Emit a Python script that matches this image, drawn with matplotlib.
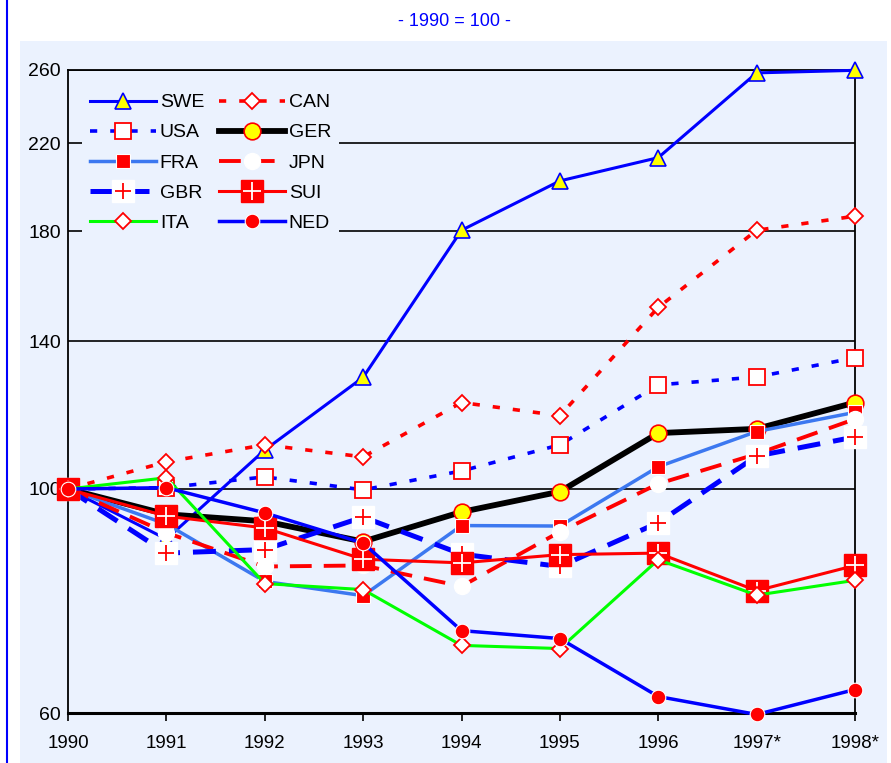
import numpy as np
import matplotlib
matplotlib.use('Agg')
import matplotlib.pyplot as plt
from matplotlib.patches import Rectangle
from matplotlib.lines import Line2D
from matplotlib.ticker import NullLocator

plt.rcParams['font.family'] = ['Liberation Sans', 'DejaVu Sans']

# index values, 1990 = 100
years = np.arange(1990, 1999)
year_labels = ['1990', '1991', '1992', '1993', '1994', '1995', '1996', '1997*', '1998*']

swe = [100, 89.2, 109.3, 129.0, 180.4, 201.9, 212.9, 258.3, 259.8]
can = [100, 106.4, 110.6, 107.6, 121.8, 118.2, 151.3, 180.4, 186.3]
usa = [100, 100.3, 102.8, 99.8, 104.2, 110.6, 126.8, 129.1, 134.9]
ger = [100, 94.4, 92.9, 88.7, 94.9, 99.4, 113.6, 114.7, 121.8]
fra = [100, 92.3, 81.0, 78.4, 92.0, 91.9, 105.2, 114.0, 119.1]
jpn = [100, 90.5, 83.8, 84.0, 80.1, 90.7, 101.2, 108.3, 117.3]
gbr = [100, 86.4, 87.1, 93.8, 86.2, 83.8, 92.6, 107.8, 112.6]
sui = [100, 94.0, 91.5, 85.2, 84.5, 86.1, 86.4, 79.3, 84.0]
ita = [100, 102.6, 80.6, 79.5, 70.0, 69.5, 85.1, 78.5, 81.2]
ned = [100, 100.3, 94.7, 88.4, 72.4, 71.1, 62.3, 59.8, 63.3]

yticks = [60, 100, 140, 180, 220, 260]

BG = '#EBF2FE'
BLUE = '#0000FF'
RED = '#FF0000'
W, H = 891, 763

fig = plt.figure(figsize=(W / 100, H / 100), dpi=100)
fig.patches.append(Rectangle((20 / W, 0), (887 - 20) / W, (763 - 41) / H,
                             transform=fig.transFigure, facecolor=BG,
                             edgecolor='none', zorder=-5))
fig.add_artist(Line2D([7 / W, 7 / W], [0, 1], color=BLUE, lw=1.5, zorder=-4))
fig.text(454 / W, 1 - 22 / H, '- 1990 = 100 -', color=BLUE, fontsize=13,
         ha='center', va='center')

ax = fig.add_axes([68 / W, 1 - 713 / H, (855 - 68) / W, (713 - 70) / H])
ax.set_facecolor(BG)

kw = dict(clip_on=False)
l_swe, = ax.plot(years, swe, color=BLUE, lw=2.2, marker='^', ms=11.5,
                 mfc='#FFFF00', mec=BLUE, mew=1.2, zorder=3, **kw)
l_can, = ax.plot(years, can, color=RED, lw=2.6, dashes=(2.0, 3.6), marker='D',
                 ms=8.3, mfc='white', mec=RED, mew=1.3, zorder=3.1, **kw)
l_usa, = ax.plot(years, usa, color=BLUE, lw=2.6, dashes=(2.0, 3.6), marker='s',
                 ms=12, mfc='white', mec=RED, mew=1.3, zorder=3.2, **kw)
l_ger, = ax.plot(years, ger, color='black', lw=4.2, marker='o', ms=12,
                 mfc='#FFFF00', mec=RED, mew=1.2, zorder=3.3, **kw)
l_fra, = ax.plot(years, fra, color='#3C78F0', lw=2.5, marker='s', ms=10.5,
                 mfc=RED, mec='white', mew=0.8, zorder=3.4, **kw)
l_jpn, = ax.plot(years, jpn, color=RED, lw=2.8, dashes=(5.6, 3.1), marker='o',
                 ms=11.5, mfc='white', mec='white', zorder=3.5, **kw)
l_gbr, = ax.plot(years, gbr, color=BLUE, lw=3.6, dashes=(4.6, 2.6), marker='s',
                 ms=16, mfc='white', mec='white', zorder=3.6, **kw)
p_gbr, = ax.plot(years, gbr, ls='none', marker='+', ms=11, mec=RED, mew=1.3,
                 zorder=3.61, **kw)
l_sui, = ax.plot(years, sui, color=RED, lw=2.2, marker='s', ms=16,
                 mfc=RED, mec=RED, zorder=3.7, **kw)
p_sui, = ax.plot(years, sui, ls='none', marker='+', ms=13, mec='white', mew=1.3,
                 zorder=3.71, **kw)
l_ita, = ax.plot(years, ita, color='#00FF00', lw=2.2, marker='D', ms=8.3,
                 mfc='white', mec=RED, mew=1.3, zorder=3.8, **kw)
l_ned, = ax.plot(years, ned, color=BLUE, lw=2.5, marker='o', ms=10.5,
                 mfc=RED, mec='white', mew=0.8, zorder=3.9, **kw)

ax.set_yscale('log')
ax.set_ylim(60, 260)
ax.set_xlim(1990, 1998)
ax.set_yticks(yticks)
ax.set_yticklabels([str(v) for v in yticks])
ax.yaxis.set_minor_locator(NullLocator())
ax.set_xticks(years)
ax.set_xticklabels(year_labels)
ax.tick_params(axis='y', length=0, pad=5, labelsize=14)
ax.tick_params(axis='x', direction='out', length=6, width=1.2, pad=10, labelsize=13.5)
ax.grid(axis='y', color='black', lw=1.2)
for s in ['left', 'right', 'top']:
    ax.spines[s].set_linewidth(1.3)
ax.spines['bottom'].set_linewidth(2.2)

handles = [l_swe, l_usa, l_fra, (l_gbr, p_gbr), l_ita,
           l_can, l_ger, l_jpn, (l_sui, p_sui), l_ned]
labels = ['SWE', 'USA', 'FRA', 'GBR', 'ITA', 'CAN', 'GER', 'JPN', 'SUI', 'NED']
leg = ax.legend(handles, labels, ncol=2, loc='upper left',
                bbox_to_anchor=((82 - 68) / 787, (713 - 86) / 643),
                borderaxespad=0, borderpad=0.4, frameon=True, fancybox=False,
                facecolor=BG, edgecolor='none', framealpha=1, fontsize=14,
                handlelength=3.4, handletextpad=0.2, columnspacing=0.75,
                labelspacing=0.64)

fig.savefig('out.png', dpi=100)
